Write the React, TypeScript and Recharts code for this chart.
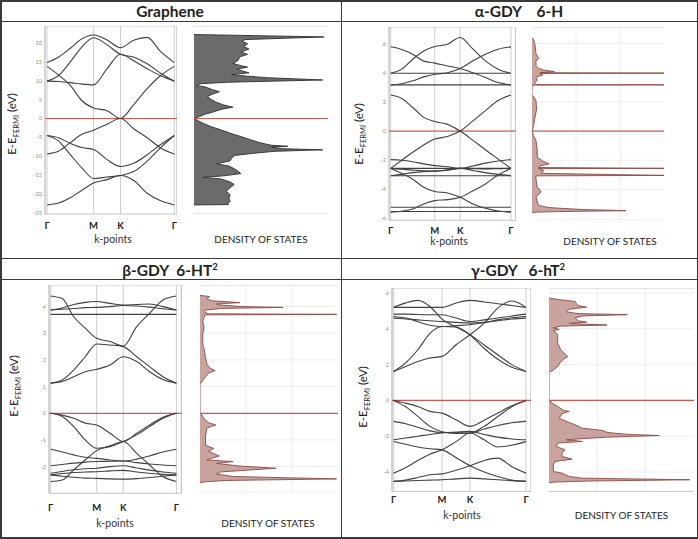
import React from 'react';
import { LineChart, Line, XAxis, YAxis, ReferenceLine, ComposedChart, Area, CartesianGrid } from 'recharts';

// ---------- shared k-path ----------
const kPath = [0, 0.25, 0.5, 0.75, 1, 1.29, 1.577, 1.87, 2.15, 2.44, 2.732];
const kTicks = [0, 1, 1.577, 2.732];
const kTickLabels = ['Γ', 'M', 'K', 'Γ'];
const dosGridValues = [33.3, 66.7];

// ---------- Graphene ----------
const grapheneBands = [
  [-22.9, -22.4, -21.0, -19.0, -17.1, -16.2, -15.1, -16.5, -19.8, -21.8, -22.9],
  [-4.5, -6.0, -9.6, -13.1, -15.9, -15.5, -15.1, -14.0, -11.3, -7.7, -4.5],
  [-4.5, -5.1, -6.6, -7.7, -8.2, -10.9, -12.7, -11.8, -9.6, -6.9, -4.5],
  [-9.4, -8.6, -6.4, -4.2, -3.1, -1.5, 0, -2.8, -5.1, -7.8, -9.4],
  [13.8, 11.5, 8.75, 4.7, 2.8, 2.05, 0, 3.8, 7.9, 11.4, 13.8],
  [9.9, 9.8, 9.5, 9.1, 8.9, 13.2, 17.0, 15.2, 13.2, 11.3, 9.9],
  [9.9, 11.4, 15.0, 19.0, 21.4, 19.5, 17.0, 16.2, 14.5, 12.0, 9.9],
  [14.8, 16.3, 18.6, 21.1, 22.1, 20.8, 18.75, 20.8, 21.5, 17.7, 14.8],
];
const grapheneTicks = [-25, -20, -15, -10, -5, 0, 5, 10, 15, 20];
const grapheneDosE = [22.25, 21.6, 20.9, 20.4, 19.8, 19.1, 18.4, 17.6, 17.0, 16.3, 15.4, 14.6, 14.0, 13.6, 13.1, 12.6, 12.1, 11.6, 11.2, 10.8, 10.2, 9.6, 9.2, 8.7, 8.4, 7.6, 7.1, 6.5, 5.8, 5.0, 4.4, 3.6, 3.0, 2.4, 1.8, 1.1, 0.5, 0, -0.6, -1.3, -2.2, -3.0, -3.9, -4.8, -5.6, -6.3, -6.8, -7.1, -7.35, -7.6, -8.0, -8.3, -8.7, -9.2, -9.8, -10.5, -11.2, -12.0, -12.6, -13.3, -14.0, -14.6, -15.2, -15.6, -16.0, -16.8, -17.5, -18.3, -19.3, -20.2, -21.1, -22.0, -22.5, -22.8, -22.9];
const grapheneDosV = [0, 97, 38, 36, 40, 37, 41, 35, 40, 34, 33, 29, 35, 40, 32, 36, 41, 28, 40, 55, 96, 25, 5, 2, 8, 14, 19, 14, 10, 13, 16, 22, 29, 20, 15, 8, 4, 0.5, 3, 7, 13, 20, 27, 35, 42, 48, 54, 58, 70, 58, 66, 96, 60, 45, 30, 28, 27, 17, 26, 30, 33, 35, 22, 7, 20, 27, 30, 27, 24, 27, 26, 27, 25, 26, 0];

// ---------- alpha-GDY ----------
const alphaBands = [
  [3.97, 3.97, 3.97, 3.97, 3.97, 3.97, 3.97, 3.97, 3.97, 3.97, 3.97],
  [3.17, 3.17, 3.17, 3.17, 3.17, 3.17, 3.17, 3.17, 3.17, 3.17, 3.17],
  [5.78, 5.6, 5.27, 4.8, 4.66, 4.47, 4.29, 4.0, 3.68, 3.33, 3.17],
  [3.97, 4.25, 4.93, 5.5, 5.8, 5.96, 6.42, 5.62, 4.82, 4.25, 3.97],
  [3.17, 3.25, 3.45, 3.72, 3.9, 4.0, 4.29, 4.82, 5.27, 5.62, 5.78],
  [2.47, 2.24, 1.62, 0.94, 0.66, 0.46, 0, -0.64, -1.28, -1.92, -2.56],
  [-2.56, -2.0, -1.45, -0.95, -0.55, -0.37, 0, 0.7, 1.4, 2.1, 2.47],
  [-1.96, -2.0, -2.1, -2.25, -2.37, -2.45, -2.56, -2.4, -2.2, -2.05, -1.96],
  [-2.56, -2.56, -2.56, -2.56, -2.56, -2.56, -2.56, -2.56, -2.56, -2.56, -2.56],
  [-3.06, -3.06, -3.06, -3.06, -3.06, -3.06, -3.06, -3.06, -3.06, -3.06, -3.06],
  [-2.56, -2.62, -2.68, -2.73, -2.75, -2.68, -2.56, -2.7, -2.85, -2.97, -3.06],
  [-3.06, -2.97, -2.85, -2.78, -2.75, -2.66, -2.56, -2.58, -2.6, -2.58, -2.56],
  [-2.56, -2.9, -3.3, -3.86, -4.15, -4.25, -4.54, -5.0, -5.3, -5.48, -5.57],
  [-5.57, -5.5, -5.35, -5.0, -4.77, -4.7, -4.54, -4.1, -3.63, -3.01, -2.56],
  [-5.23, -5.23, -5.23, -5.23, -5.23, -5.23, -5.23, -5.23, -5.23, -5.23, -5.23],
  [-5.52, -5.52, -5.52, -5.52, -5.52, -5.52, -5.52, -5.52, -5.52, -5.52, -5.52],
];
const alphaTicks = [-6, -4, -2, 0, 2, 4, 6];
const alphaDosE = [6.42, 6.2, 5.8, 5.3, 5.0, 4.8, 4.5, 4.3, 4.18, 4.08, 4.0, 3.975, 3.955, 3.85, 3.7, 3.5, 3.3, 3.185, 3.17, 3.155, 3.1, 2.5, 2.45, 2.1, 1.5, 0.8, 0.3, 0, -0.3, -0.65, -1.3, -1.8, -2.05, -2.25, -2.38, -2.5, -2.555, -2.575, -2.7, -2.9, -3.04, -3.07, -3.3, -3.85, -4.18, -4.5, -4.86, -5.1, -5.25, -5.38, -5.46, -5.52, -5.56, -5.6];
const alphaDosV = [0, 1.5, 2.5, 3, 5, 3, 3, 5, 9, 17, 6, 100, 6, 8, 3, 4, 2, 3, 100, 2, 0, 0, 0.5, 3, 3.5, 2, 1, 0.3, 1, 3, 4, 4, 8, 13, 6, 5, 100, 5, 9, 7, 100, 3, 3, 4, 7, 3, 4, 5, 13, 38, 71, 20, 3, 0];

// ---------- beta-GDY ----------
const betaBands = [
  [4.4, 4.3, 3.62, 3.19, 2.81, 2.69, 2.52, 3.25, 3.75, 4.25, 4.4],
  [3.87, 3.95, 4.08, 4.16, 4.19, 4.12, 4.06, 4.08, 4.1, 4.0, 3.87],
  [3.87, 3.9, 3.93, 3.96, 3.97, 4.0, 4.04, 4.02, 3.98, 3.92, 3.87],
  [3.71, 3.71, 3.71, 3.71, 3.71, 3.71, 3.71, 3.71, 3.71, 3.71, 3.71],
  [1.13, 1.25, 1.62, 2.12, 2.6, 2.56, 2.5, 2.12, 1.75, 1.37, 1.13],
  [1.13, 1.19, 1.37, 1.56, 1.65, 1.81, 2.12, 1.94, 1.56, 1.27, 1.13],
  [0, -0.07, -0.19, -0.37, -0.44, -0.75, -1.06, -0.75, -0.44, -0.15, 0],
  [0, -0.12, -0.5, -1.0, -1.31, -1.25, -1.06, -0.81, -0.5, -0.19, 0],
  [-2.56, -2.5, -2.12, -1.75, -1.4, -1.22, -1.06, -1.5, -1.94, -2.37, -2.56],
  [-1.35, -1.45, -1.56, -1.65, -1.69, -1.75, -1.79, -1.72, -1.6, -1.45, -1.35],
  [-1.97, -1.92, -1.87, -1.83, -1.81, -1.8, -1.79, -1.85, -1.9, -1.94, -1.97],
  [-2.25, -2.18, -2.12, -2.08, -2.06, -2.0, -1.97, -2.05, -2.13, -2.2, -2.25],
  [-2.31, -2.26, -2.22, -2.2, -2.19, -2.16, -2.14, -2.2, -2.25, -2.29, -2.31],
  [-2.31, -2.36, -2.4, -2.43, -2.44, -2.46, -2.47, -2.45, -2.41, -2.36, -2.31],
];
const betaTicks = [-2, -1, 0, 1, 2, 3, 4];
const betaDosE = [4.42, 4.38, 4.3, 4.22, 4.15, 4.1, 4.06, 4.0, 3.97, 3.93, 3.87, 3.8, 3.73, 3.71, 3.69, 3.6, 3.45, 3.2, 3.0, 2.6, 2.4, 2.1, 1.85, 1.7, 1.6, 1.5, 1.3, 1.15, 1.12, 0.02, 0, -0.2, -0.35, -0.44, -0.55, -0.85, -1.2, -1.32, -1.42, -1.6, -1.68, -1.75, -1.81, -1.88, -1.98, -2.06, -2.12, -2.2, -2.28, -2.37, -2.46, -2.52, -2.57, -2.6];
const betaDosV = [0, 7, 5, 8, 29, 12, 15, 30, 60, 15, 4, 3, 6, 99, 4, 3, 2, 3, 2, 2, 3, 4, 5, 7, 11, 6, 3, 1, 0, 0, 0.5, 3, 6, 11.5, 5, 4, 4, 10, 6, 14, 9, 5, 24, 12, 29, 55, 38, 15, 12, 24, 99, 18, 4, 0];

// ---------- gamma-GDY ----------
const gammaBands = [
  [1.62, 2.1, 2.83, 3.75, 4.13, 4.1, 3.67, 3.1, 2.55, 2.0, 1.62],
  [1.62, 1.9, 2.18, 2.37, 2.46, 3.11, 3.67, 4.32, 5.16, 5.55, 5.2],
  [5.2, 5.45, 5.59, 5.25, 4.54, 4.1, 3.67, 2.9, 2.3, 1.85, 1.62],
  [4.82, 4.82, 4.8, 4.79, 4.79, 4.6, 4.41, 4.5, 4.6, 4.72, 4.82],
  [4.69, 4.6, 4.4, 4.2, 4.13, 4.18, 4.23, 4.35, 4.5, 4.62, 4.69],
  [5.2, 5.2, 5.2, 5.2, 5.2, 5.44, 5.59, 5.5, 5.4, 5.3, 5.2],
  [4.6, 4.55, 4.5, 4.45, 4.41, 4.36, 4.32, 4.36, 4.45, 4.55, 4.6],
  [0, -0.15, -0.34, -0.61, -0.71, -1.08, -1.45, -1.1, -0.7, -0.3, 0],
  [0, -0.35, -0.89, -1.45, -1.75, -1.85, -1.82, -1.45, -0.9, -0.35, 0],
  [-1.17, -1.3, -1.5, -1.7, -1.79, -1.8, -1.82, -1.6, -1.4, -1.25, -1.17],
  [-2.2, -2.1, -2.0, -1.9, -1.82, -1.77, -1.73, -1.9, -2.05, -2.15, -2.2],
  [-2.29, -2.45, -2.6, -2.7, -2.76, -3.2, -3.65, -4.0, -4.25, -4.45, -4.52],
  [-4.06, -3.75, -3.35, -3.0, -2.76, -2.3, -1.82, -2.2, -2.6, -2.5, -2.3],
  [-4.52, -4.45, -4.3, -4.15, -4.1, -3.9, -3.65, -3.35, -3.22, -3.7, -4.06],
  [-4.52, -4.5, -4.47, -4.45, -4.43, -4.38, -4.34, -4.38, -4.43, -4.48, -4.52],
];
const gammaTicks = [-4, -2, 0, 2, 4, 6];
const gammaDosE = [5.72, 5.62, 5.53, 5.4, 5.3, 5.21, 5.1, 4.95, 4.85, 4.79, 4.72, 4.6, 4.45, 4.38, 4.3, 4.21, 4.15, 4.05, 3.97, 3.9, 3.7, 3.2, 2.85, 2.6, 2.45, 2.3, 2.15, 1.9, 1.7, 1.6, 1.55, 0.02, 0, -0.15, -0.34, -0.55, -0.61, -0.74, -0.99, -1.17, -1.36, -1.55, -1.68, -1.78, -1.82, -1.9, -1.96, -2.05, -2.15, -2.2, -2.29, -2.38, -2.57, -2.76, -2.94, -3.13, -3.28, -3.41, -3.6, -3.97, -4.06, -4.25, -4.34, -4.43, -4.5, -4.56, -4.6];
const gammaDosV = [0, 8, 18, 19, 20, 26, 14, 12, 20, 54, 23, 18, 20, 26, 14, 40, 8, 3, 7, 3, 6, 6, 8, 11, 13, 10, 8, 6, 3, 0.5, 0, 0, 0.5, 2, 6, 10, 14, 9, 7, 12, 18, 23, 37, 40, 44, 55, 76, 40, 20, 12, 23, 6, 5, 11, 9, 9, 16, 4, 3, 3, 9, 14, 23, 97, 28, 4, 0];

// ---------- components ----------
const FONT = 'Lato, "Open Sans", "Liberation Sans", sans-serif';

type Geo = { left: number; top: number; width: number; height: number };

function BandPlot({ g, bands, xDomain, yDomain, yTicks, labelOffset }: { g: Geo; bands: number[][]; xDomain: [number, number]; yDomain: [number, number]; yTicks: number[]; labelOffset: number }) {
  const rows = kPath.map((k, i) => {
    const r: Record<string, number> = { k };
    bands.forEach((b, j) => { r['b' + j] = b[i]; });
    return r;
  });
  const axisW = 18;
  const axisH = 22;
  const renderTick = (p: any) => {
    const idx = kTicks.indexOf(p.payload.value);
    return (
      <text x={p.x} y={p.y + labelOffset} textAnchor="middle" dominantBaseline="central" fontSize={9.5} fontWeight={700} fill="#222" fontFamily={FONT}>
        {kTickLabels[idx >= 0 ? idx : 0]}
      </text>
    );
  };
  return (
    <div style={{ position: 'absolute', left: g.left - axisW, top: g.top, width: g.width + axisW, height: g.height + axisH }}>
      <LineChart width={g.width + axisW} height={g.height + axisH} data={rows} margin={{ top: 0, right: 0, bottom: 0, left: 0 }} style={{ overflow: 'visible' }}>
        <CartesianGrid horizontal={false} stroke="#cdcdcd" strokeWidth={1} />
        <XAxis type="number" dataKey="k" domain={xDomain} ticks={kTicks} interval={0} height={axisH} axisLine={false} tickLine={false} tickSize={0} tickMargin={0} tick={renderTick} allowDataOverflow />
        <YAxis type="number" domain={yDomain} ticks={yTicks} interval={0} width={axisW} axisLine={false} tickLine={false} tickSize={0} tickMargin={3} tick={{ fontSize: 5.5, fill: '#8a8a8a', fontFamily: FONT }} allowDataOverflow />
        <ReferenceLine x={xDomain[0]} stroke="#c4c4c4" />
        <ReferenceLine x={xDomain[1]} stroke="#c4c4c4" />
        <ReferenceLine y={yDomain[0]} stroke="#c4c4c4" />
        <ReferenceLine y={yDomain[1]} stroke="#c4c4c4" />
        <ReferenceLine y={0} stroke="#d2574f" strokeWidth={1.2} />
        {bands.map((_, j) => (
          <Line key={j} dataKey={'b' + j} type="monotone" stroke="#404040" strokeWidth={1.1} dot={false} isAnimationActive={false} />
        ))}
      </LineChart>
    </div>
  );
}

function DosPlot({ g, e, d, yDomain, yTicks, fill, stroke, faintGrid }: { g: Geo; e: number[]; d: number[]; yDomain: [number, number]; yTicks: number[]; fill: string; stroke: string; faintGrid: boolean }) {
  const rows = e.map((v, i) => ({ e: v, d: d[i] }));
  return (
    <div style={{ position: 'absolute', left: g.left, top: g.top, width: g.width, height: g.height }}>
      <ComposedChart layout="vertical" width={g.width} height={g.height} data={rows} margin={{ top: 0, right: 0, bottom: 0, left: 0 }}>
        <XAxis type="number" domain={[0, 100]} hide allowDataOverflow />
        <YAxis type="number" dataKey="e" domain={yDomain} reversed hide allowDataOverflow />
        {faintGrid && <CartesianGrid stroke="#eeeeee" verticalValues={dosGridValues} horizontalValues={yTicks} />}
        <ReferenceLine y={yDomain[0]} stroke="#c8c8c8" />
        <ReferenceLine y={yDomain[1]} stroke="#c8c8c8" />
        <Area dataKey="d" type="linear" fill={fill} fillOpacity={1} stroke={stroke} strokeWidth={0.9} isAnimationActive={false} />
        <ReferenceLine y={0} stroke="#d2574f" strokeWidth={1.2} />
      </ComposedChart>
    </div>
  );
}

function Txt({ x, y, size, bold, children, color }: { x: number; y: number; size: number; bold?: boolean; children: React.ReactNode; color?: string }) {
  return (
    <div style={{ position: 'absolute', left: x, top: y, transform: 'translate(-50%, -50%)', whiteSpace: 'pre', fontFamily: FONT, fontSize: size, fontWeight: bold ? 700 : 400, color: color || '#222', lineHeight: 1 }}>
      {children}
    </div>
  );
}

function YLabel({ x, y }: { x: number; y: number }) {
  return (
    <div style={{ position: 'absolute', left: x, top: y, transform: 'translate(-50%, -50%) rotate(-90deg)', whiteSpace: 'pre', fontFamily: FONT, fontSize: 11.5, color: '#222', lineHeight: 1 }}>
      E-E<span style={{ fontSize: 7.5, verticalAlign: -3 }}>FERMI</span> (eV)
    </div>
  );
}

function HLine({ x, y, w }: { x: number; y: number; w: number }) {
  return <div style={{ position: 'absolute', left: x, top: y, width: w, height: 1.5, background: '#3a3a3a' }} />;
}
function VLine({ x, y, h }: { x: number; y: number; h: number }) {
  return <div style={{ position: 'absolute', left: x, top: y, width: 1.5, height: h, background: '#3a3a3a' }} />;
}

const GDY_FILL = '#c9a39e';
const GDY_STROKE = '#8c4a44';

export default function App() {
  return (
    <div style={{ position: 'fixed', left: 0, top: 0, width: 698, height: 539, background: '#fff', overflow: 'hidden' }}>
      {/* frame lines */}
      <HLine x={0} y={0} w={698} />
      <HLine x={0} y={537} w={698} />
      <VLine x={0} y={0} h={539} />
      <VLine x={696.5} y={0} h={539} />
      <HLine x={0} y={20.5} w={698} />
      <HLine x={0} y={257.5} w={698} />
      <HLine x={0} y={278.5} w={698} />
      <VLine x={340.5} y={0} h={539} />

      {/* headers */}
      <Txt x={170} y={11.5} size={15.5} bold>Graphene</Txt>
      <Txt x={519} y={12} size={15.5} bold>{'α-GDY    6-H'}</Txt>
      <Txt x={170} y={270} size={15.5} bold>β-GDY  6-HT<sup style={{ fontSize: 9.5 }}>2</sup></Txt>
      <Txt x={518} y={270} size={15.5} bold>γ-GDY   6-hT<sup style={{ fontSize: 9.5 }}>2</sup></Txt>

      {/* Graphene */}
      <BandPlot g={{ left: 45, top: 26, width: 132, height: 188 }} bands={grapheneBands} xDomain={[-0.043, 2.79]} yDomain={[-25.3, 24.5]} yTicks={grapheneTicks} labelOffset={11} />
      <DosPlot g={{ left: 194, top: 26, width: 134, height: 188 }} e={grapheneDosE} d={grapheneDosV} yDomain={[-25.3, 24.5]} yTicks={grapheneTicks} fill="#6b6b6b" stroke="#2e2e2e" faintGrid={false} />
      <YLabel x={13} y={124} />
      <Txt x={113} y={239} size={10.5} color="#333">k-points</Txt>
      <Txt x={261} y={239} size={10}>DENSITY OF STATES</Txt>

      {/* alpha-GDY */}
      <BandPlot g={{ left: 389, top: 26.7, width: 126.7, height: 193.3 }} bands={alphaBands} xDomain={[-0.039, 2.839]} yDomain={[-6.12, 7.14]} yTicks={alphaTicks} labelOffset={10} />
      <DosPlot g={{ left: 531.7, top: 26.7, width: 132.3, height: 193.3 }} e={alphaDosE} d={alphaDosV} yDomain={[-6.12, 7.14]} yTicks={alphaTicks} fill={GDY_FILL} stroke={GDY_STROKE} faintGrid />
      <YLabel x={360} y={134} />
      <Txt x={449} y={241} size={10.5} color="#333">k-points</Txt>
      <Txt x={610} y={241} size={10}>DENSITY OF STATES</Txt>

      {/* beta-GDY */}
      <BandPlot g={{ left: 49.3, top: 285, width: 132.4, height: 208.3 }} bands={betaBands} xDomain={[-0.037, 2.841]} yDomain={[-3.0, 4.81]} yTicks={betaTicks} labelOffset={14.5} />
      <DosPlot g={{ left: 200, top: 285, width: 138, height: 208.3 }} e={betaDosE} d={betaDosV} yDomain={[-3.0, 4.81]} yTicks={betaTicks} fill={GDY_FILL} stroke={GDY_STROKE} faintGrid />
      <YLabel x={15} y={386} />
      <Txt x={115} y={523} size={10.5} color="#333">k-points</Txt>
      <Txt x={268} y={523} size={10}>DENSITY OF STATES</Txt>

      {/* gamma-GDY */}
      <BandPlot g={{ left: 391.7, top: 288.3, width: 139, height: 203.4 }} bands={gammaBands} xDomain={[-0.033, 2.835]} yDomain={[-5.08, 6.28]} yTicks={gammaTicks} labelOffset={8.5} />
      <DosPlot g={{ left: 549, top: 288.3, width: 145, height: 203.4 }} e={gammaDosE} d={gammaDosV} yDomain={[-5.08, 6.28]} yTicks={gammaTicks} fill={GDY_FILL} stroke={GDY_STROKE} faintGrid />
      <YLabel x={364} y={397} />
      <Txt x={462} y={515} size={10.5} color="#333">k-points</Txt>
      <Txt x={621.5} y={515} size={10}>DENSITY OF STATES</Txt>
    </div>
  );
}
